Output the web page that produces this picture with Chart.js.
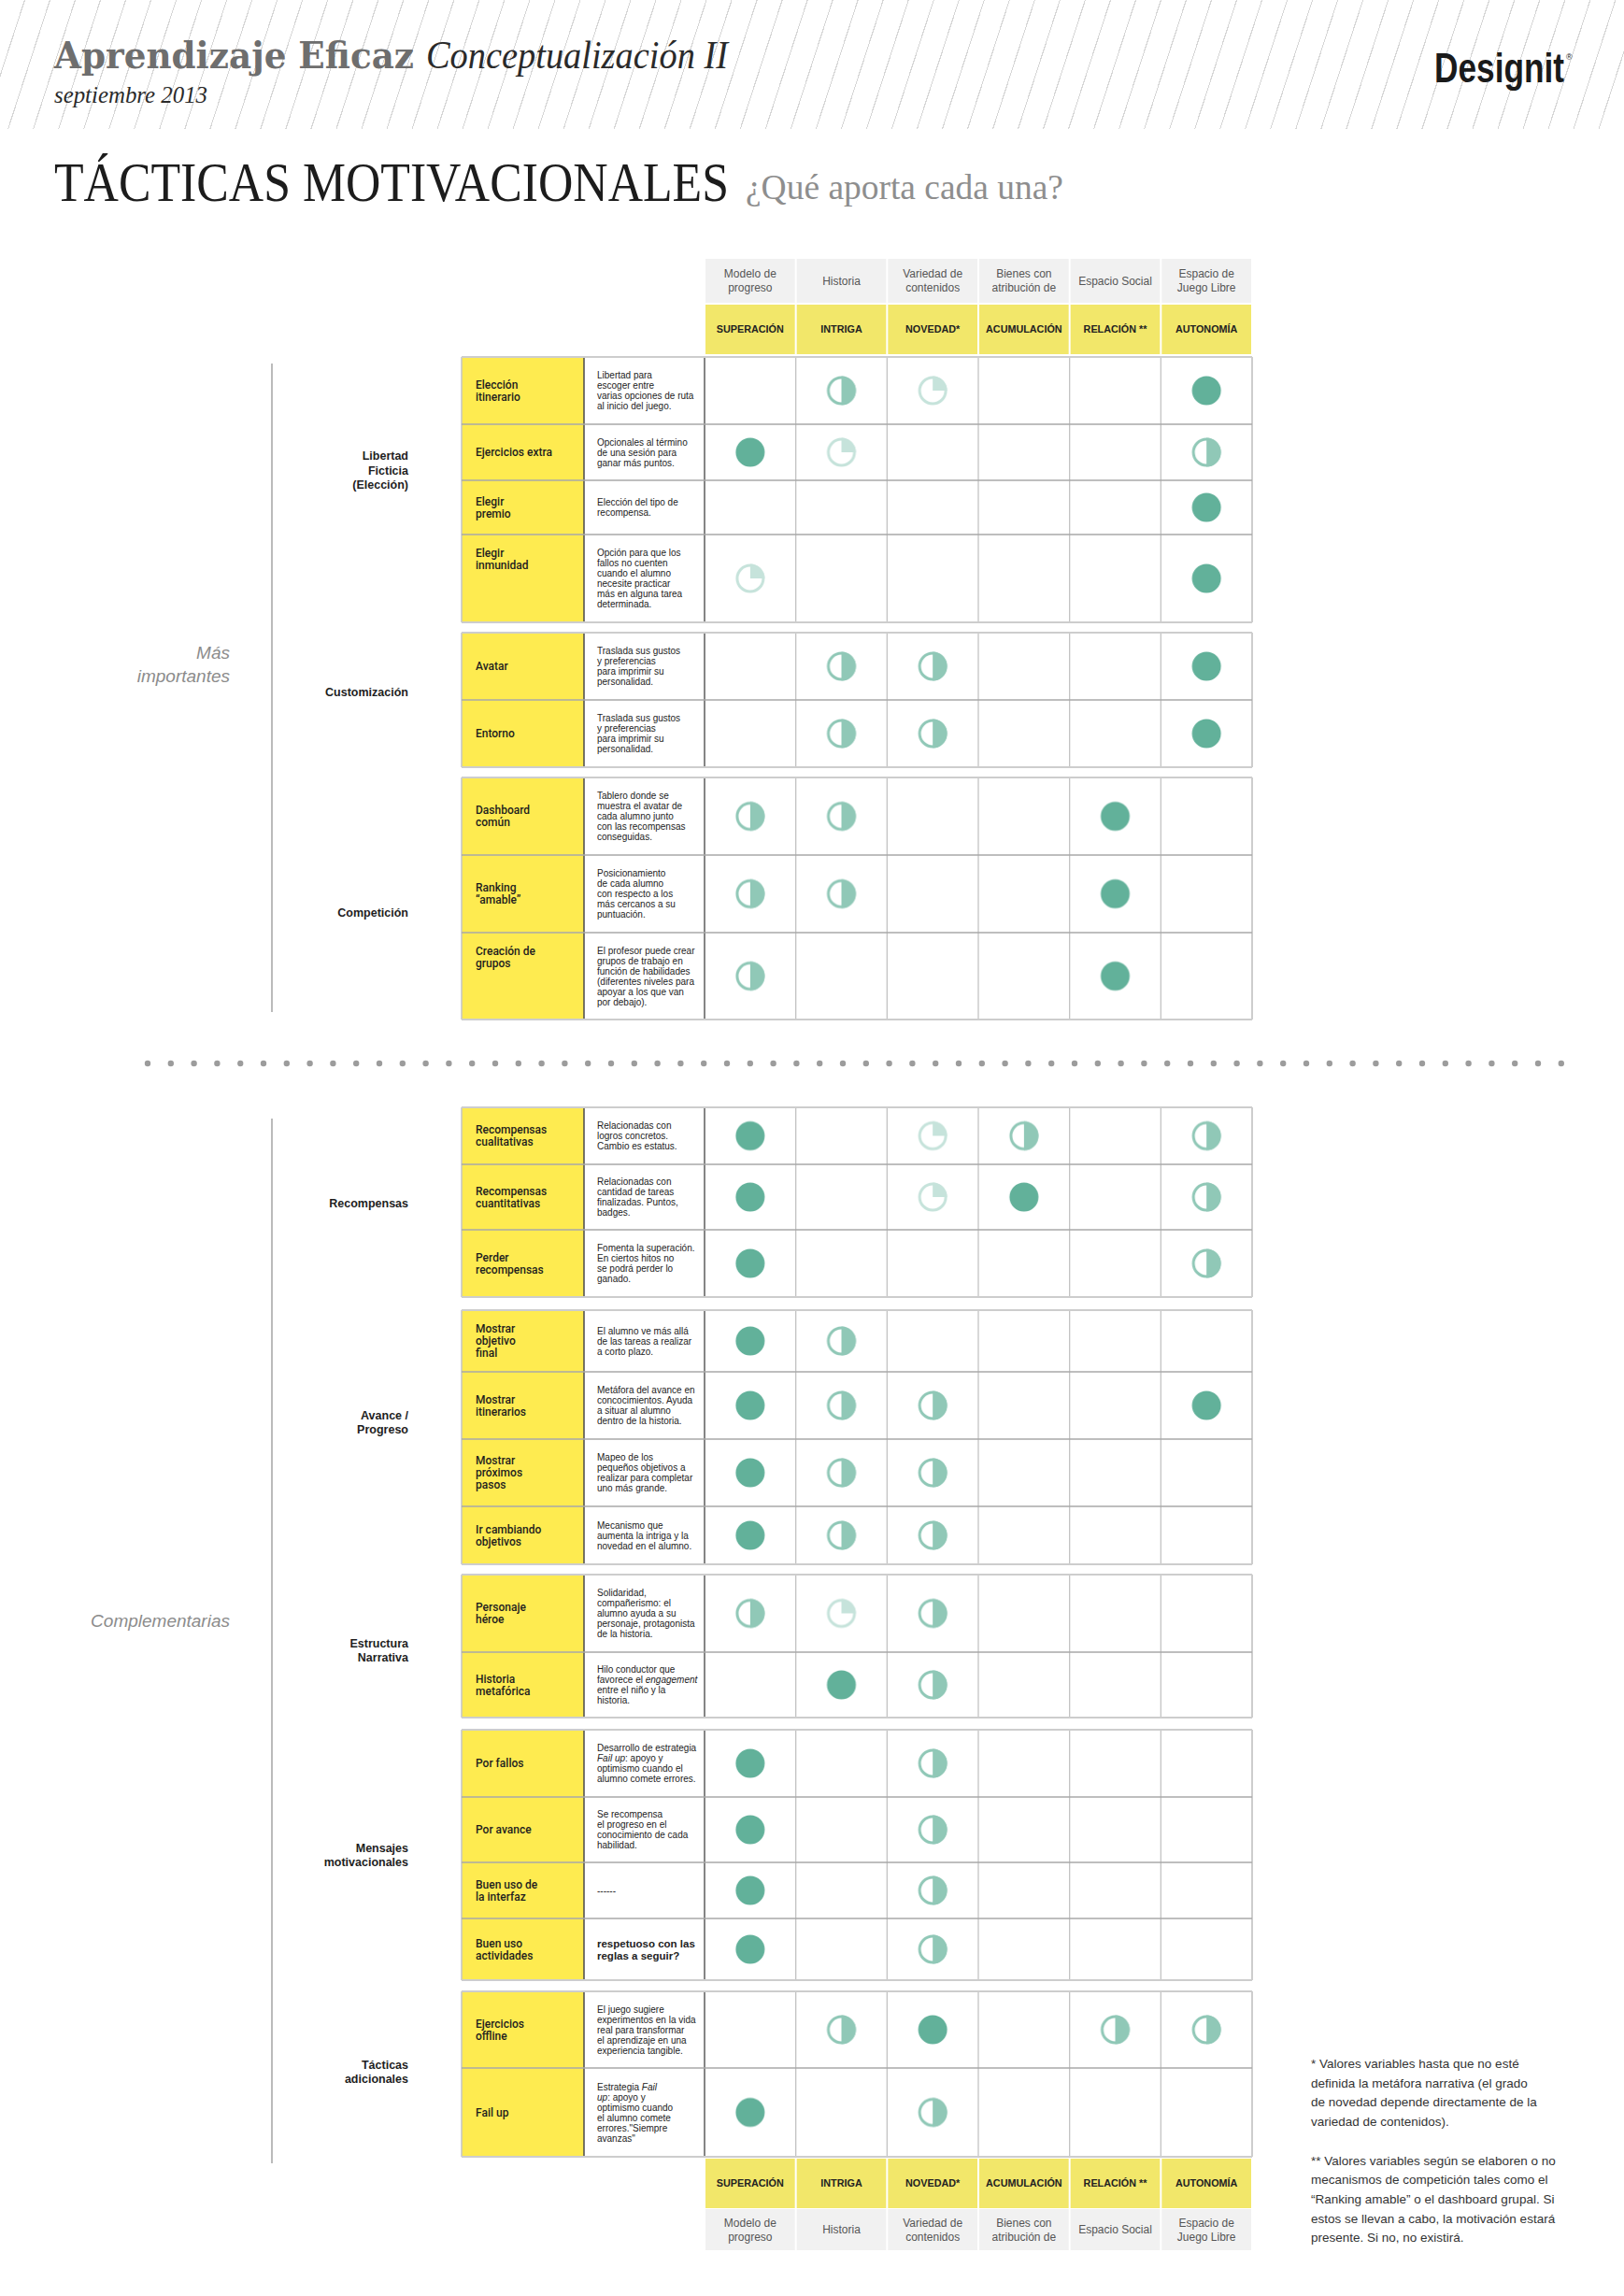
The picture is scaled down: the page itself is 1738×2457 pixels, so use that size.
<!DOCTYPE html>
<html><head><meta charset="utf-8">
<script src="https://cdn.jsdelivr.net/npm/chart.js@4.4.1/dist/chart.umd.min.js"></script>
<style>
html,body{margin:0;padding:0;background:#fff;}
#page{position:relative;width:1738px;height:2457px;overflow:hidden;background:#fff;}
#hatch{position:absolute;left:0;top:0;width:1738px;height:138px;
  background:repeating-linear-gradient(108deg, rgba(255,255,255,0) 0px, rgba(255,255,255,0) 24.6px, #d6d6d6 24.6px, #d6d6d6 25.7px);}
#svg{position:absolute;left:0;top:0;}
canvas.row{position:absolute;}
</style></head>
<body><div id="page"><div id="hatch"></div>
<svg id="svg" width="1738" height="2457" xmlns="http://www.w3.org/2000/svg"></svg></div>
<script>
// ---------------- DATA ----------------
const columns = ['SUPERACIÓN','INTRIGA','NOVEDAD*','ACUMULACIÓN','RELACIÓN **','AUTONOMÍA'];
const columnSources = ['Modelo de\nprogreso','Historia','Variedad de\ncontenidos','Bienes con\natribución de','Espacio Social','Espacio de\nJuego Libre'];
const sections = ['Libertad\nFicticia\n(Elección)','Customización','Competición','Recompensas','Avance /\nProgreso','Estructura\nNarrativa','Mensajes\nmotivacionales','Tácticas\nadicionales'];
const groups = ['Más\nimportantes','Complementarias'];
const tactics = [
  'Elección\nitinerario','Ejercicios extra','Elegir\npremio','Elegir\ninmunidad',
  'Avatar','Entorno',
  'Dashboard\ncomún','Ranking\n“amable”','Creación de\ngrupos',
  'Recompensas\ncualitativas','Recompensas\ncuantitativas','Perder\nrecompensas',
  'Mostrar\nobjetivo\nfinal','Mostrar\nitinerarios','Mostrar\npróximos\npasos','Ir cambiando\nobjetivos',
  'Personaje\nhéroe','Historia\nmetafórica',
  'Por fallos','Por avance','Buen uso de\nla interfaz','Buen uso\nactividades',
  'Ejercicios\noffline','Fail up'
];
const descriptions = [
  'Libertad para\nescoger entre\nvarias opciones de ruta\nal inicio del juego.',
  'Opcionales al término\nde una sesión para\nganar más puntos.',
  'Elección del tipo de\nrecompensa.',
  'Opción para que los\nfallos no cuenten\ncuando el alumno\nnecesite practicar\nmás en alguna tarea\ndeterminada.',
  'Traslada sus gustos\ny preferencias\npara imprimir su\npersonalidad.',
  'Traslada sus gustos\ny preferencias\npara imprimir su\npersonalidad.',
  'Tablero donde se\nmuestra el avatar de\ncada alumno junto\ncon las recompensas\nconseguidas.',
  'Posicionamiento\nde cada alumno\ncon respecto a los\nmás cercanos a su\npuntuación.',
  'El profesor puede crear\ngrupos de trabajo en\nfunción de habilidades\n(diferentes niveles para\napoyar a los que van\npor debajo).',
  'Relacionadas con\nlogros concretos.\nCambio es estatus.',
  'Relacionadas con\ncantidad de tareas\nfinalizadas. Puntos,\nbadges.',
  'Fomenta la superación.\nEn ciertos hitos no\nse podrá perder lo\nganado.',
  'El alumno ve más allá\nde las tareas a realizar\na corto plazo.',
  'Metáfora del avance en\nconcocimientos. Ayuda\na situar al alumno\ndentro de la historia.',
  'Mapeo de los\npequeños objetivos a\nrealizar para completar\nuno más grande.',
  'Mecanismo que\naumenta la intriga y la\nnovedad en el alumno.',
  'Solidaridad,\ncompañerismo: el\nalumno ayuda a su\npersonaje, protagonista\nde la historia.',
  'Hilo conductor que\nfavorece el <i>engagement</i>\nentre el niño y la\nhistoria.',
  'Desarrollo de estrategia\n<i>Fail up</i>: apoyo y\noptimismo cuando el\nalumno comete errores.',
  'Se recompensa\nel progreso en el\nconocimiento de cada\nhabilidad.',
  '------',
  'respetuoso con las\nreglas a seguir?',
  'El juego sugiere\nexperimentos en la vida\nreal para transformar\nel aprendizaje en una\nexperiencia tangible.',
  'Estrategia <i>Fail\nup</i>: apoyo y\noptimismo cuando\nel alumno comete\nerrores."Siempre\navanzas"'
];
const sectionOfTactic = [0,0,0,0, 1,1, 2,2,2, 3,3,3, 4,4,4,4, 5,5, 6,6,6,6, 7,7];
// levels: 0 = none, 1 = quarter, 2 = half, 3 = full
const superacion  = [0,3,0,1, 0,0, 2,2,2, 3,3,3, 3,3,3,3, 2,0, 3,3,3,3, 0,3];
const intriga     = [2,1,0,0, 2,2, 2,2,0, 0,0,0, 2,2,2,2, 1,3, 0,0,0,0, 2,0];
const novedad     = [1,0,0,0, 2,2, 0,0,0, 1,1,0, 0,2,2,2, 2,2, 2,2,2,2, 3,2];
const acumulacion = [0,0,0,0, 0,0, 0,0,0, 2,3,0, 0,0,0,0, 0,0, 0,0,0,0, 0,0];
const relacion    = [0,0,0,0, 0,0, 3,3,3, 0,0,0, 0,0,0,0, 0,0, 0,0,0,0, 2,0];
const autonomia   = [3,2,3,3, 3,3, 0,0,0, 2,2,2, 0,3,0,0, 0,0, 0,0,0,0, 2,0];
const footnotes = [
  '*  Valores variables hasta que no esté','definida la metáfora narrativa (el grado','de novedad depende directamente de la','variedad de contenidos).','',
  '** Valores variables según se elaboren o no','mecanismos de competición tales como el','“Ranking amable” o el dashboard grupal. Si','estos se llevan a cabo, la motivación estará','presente. Si no, no existirá.'
];

// ---------------- LAYOUT ----------------
const LX = {label:494, desc:625, mat:754, right:1340};
const colW = (LX.right - LX.mat) / columns.length;
const sectionTops = [382, 677, 832, 1185, 1402, 1685, 1851, 2131];
const rowHeights = [72,60,58,94, 72,72, 83,83,93, 61,70,72, 66,72,72,62, 83,70, 72,70,60,66, 82,95];
const sectionLabelY = [503, 740, 976, 1287, 1522, 1766, 1985, 2217];
const topAlignedLabels = new Set([3, 8]);

// ---------------- SVG HELPERS ----------------
const NS = 'http://www.w3.org/2000/svg';
const svg = document.getElementById('svg');
function el(name, attrs, parent) {
  const e = document.createElementNS(NS, name);
  for (const k in attrs) e.setAttribute(k, attrs[k]);
  (parent || svg).appendChild(e);
  return e;
}
function line(x1,y1,x2,y2,stroke,w){ el('line',{x1,y1,x2,y2,stroke,'stroke-width':w}); }
function textLines(x, y0, lh, str, attrs) {
  const lines = str.split('\n');
  let italic = false;
  lines.forEach((ln, i) => {
    const t = el('text', Object.assign({x, y: y0 + i*lh}, attrs));
    ln.split(/(<i>|<\/i>)/).forEach(p => {
      if (p === '<i>') { italic = true; return; }
      if (p === '</i>') { italic = false; return; }
      if (!p) return;
      const ts = el('tspan', {}, t);
      if (italic) ts.setAttribute('font-style','italic');
      ts.textContent = p;
    });
  });
}

// ---------------- HEADER ----------------
el('text',{x:58,y:73,'font-family':'DejaVu Serif','font-weight':'bold','font-size':40,fill:'#6e6e6e',textLength:385,lengthAdjust:'spacingAndGlyphs'}).textContent='Aprendizaje Eficaz';
el('text',{x:456,y:73,'font-family':'Liberation Serif','font-style':'italic','font-size':43,fill:'#2a2a2a',textLength:323,lengthAdjust:'spacingAndGlyphs'}).textContent='Conceptualización II';
el('text',{x:58,y:110,'font-family':'Liberation Serif','font-style':'italic','font-size':25,fill:'#2a2a2a',textLength:164,lengthAdjust:'spacingAndGlyphs'}).textContent='septiembre 2013';
el('text',{x:1535,y:88,'font-family':'Liberation Sans','font-weight':'bold','font-size':44,fill:'#1a1a1a',textLength:139,lengthAdjust:'spacingAndGlyphs'}).textContent='Designit';
el('text',{x:1676,y:64,'font-family':'Liberation Sans','font-size':9,fill:'#1a1a1a'}).textContent='®';
el('text',{x:58,y:215,'font-family':'Liberation Serif','font-size':59,fill:'#1c1c1c',textLength:722,lengthAdjust:'spacingAndGlyphs'}).textContent='TÁCTICAS MOTIVACIONALES';
el('text',{x:798,y:213,'font-family':'Liberation Serif','font-size':37,fill:'#8e8e8e',textLength:340,lengthAdjust:'spacingAndGlyphs'}).textContent='¿Qué aporta cada una?';

// ---------------- COLUMN HEADERS ----------------
function headerBand(yGrey, hGrey, yYel, hYel) {
  columns.forEach((c, i) => {
    const x = LX.mat + i*colW + 1, w = colW - 2, cx = LX.mat + (i+0.5)*colW;
    el('rect',{x, y:yGrey, width:w, height:hGrey, fill:'#f1f1f1'});
    el('rect',{x, y:yYel, width:w, height:hYel, fill:'#f2e76a'});
    const src = columnSources[i].split('\n');
    const gc = yGrey + hGrey/2;
    textLines(cx, gc - (src.length-1)*15/2 + 4.3, 15, columnSources[i],
      {'font-family':'Liberation Sans','font-size':12,fill:'#555','text-anchor':'middle'});
    el('text',{x:cx, y:yYel + hYel/2 + 3.8,'font-family':'Liberation Sans','font-weight':'bold','font-size':10.8,fill:'#222','text-anchor':'middle'}).textContent = c;
  });
}
headerBand(277, 47, 326, 53);

// ---------------- TABLE BODY ----------------
let rowTop = [];
{
  let r = 0;
  sectionTops.forEach((T, s) => {
    let y = T;
    while (r < tactics.length && sectionOfTactic[r] === s) { rowTop[r] = y; y += rowHeights[r]; r++; }
  });
}
sections.forEach((name, s) => {
  const rows = tactics.map((_, i) => i).filter(i => sectionOfTactic[i] === s);
  const T = sectionTops[s];
  const B = rowTop[rows[rows.length-1]] + rowHeights[rows[rows.length-1]];
  el('rect',{x:LX.label, y:T, width:LX.desc-LX.label, height:B-T, fill:'#feeb50'});
  line(LX.label, T, LX.label, B, '#c4c4c4', 1.5);
  for (let c = 1; c < columns.length; c++) { const x = LX.mat + c*colW; line(x, T, x, B, '#c3c3c3', 1.3); }
  line(LX.right, T, LX.right, B, '#bdbdbd', 1.5);
  line(LX.desc, T, LX.desc, B, '#4a4a4a', 1.5);
  line(LX.mat, T, LX.mat, B, '#858585', 2);
  rows.forEach((r, k) => {
    if (k > 0) line(LX.label, rowTop[r], LX.right, rowTop[r], '#a9a9a9', 1.6);
  });
  line(LX.label, T, LX.right, T, '#cdcdcd', 2);
  line(LX.label, B, LX.right, B, '#cdcdcd', 2);
  const n = name.split('\n').length;
  textLines(437, sectionLabelY[s] - (n-1)*15.5/2 + 4.5, 15.5, name,
    {'font-family':'Liberation Sans','font-weight':'bold','font-size':12.5,fill:'#1e1e1e','text-anchor':'end'});
});
tactics.forEach((t, r) => {
  const cy = rowTop[r] + rowHeights[r]/2;
  const dl = descriptions[r].split('\n').length;
  const big = r === 21;
  const dlh = big ? 13 : 11;
  const dFirst = cy - (dl-1)*dlh/2 + (big ? 4 : 3.5);
  textLines(639, dFirst, dlh, descriptions[r],
    {'font-family':'Liberation Sans','font-size': big ? 11.5 : 10, fill:'#222', 'font-weight': big ? 'bold' : 'normal'});
  const nl = t.split('\n').length;
  const lFirst = topAlignedLabels.has(r) ? dFirst + 1 : cy - (nl-1)*13/2 + 4.3;
  textLines(509, lFirst, 13, t, {'font-family':'Roboto, Liberation Sans','font-weight':500,'font-size':12,fill:'#1e1e1e'});
});

headerBand(2364, 44, 2310, 53);

line(291, 389, 291, 1083, '#a5a5a5', 1.5);
line(291, 1197, 291, 2315, '#a5a5a5', 1.5);
textLines(246, 705, 25, groups[0], {'font-family':'Liberation Sans','font-style':'italic','font-size':19,fill:'#8c8c8c','text-anchor':'end'});
textLines(246, 1741, 25, groups[1], {'font-family':'Liberation Sans','font-style':'italic','font-size':19,fill:'#8c8c8c','text-anchor':'end'});

for (let i = 0; i < 62; i++) el('circle',{cx:158 + i*24.8, cy:1138, r:3.2, fill:'#9c9c9c'});

footnotes.forEach((f, i) => {
  if (!f) return;
  el('text',{x:1403, y:2213 + i*20.7,'font-family':'Liberation Sans','font-size':13.5,fill:'#333'}).textContent = f;
});

// ---------------- CHART.JS MARKERS ----------------
function makeIcon(level) {
  const c = document.createElement('canvas');
  c.width = 34; c.height = 34;
  const g = c.getContext('2d');
  const cx = 17, cy = 17;
  if (level === 3) {
    g.fillStyle = '#62b19a';
    g.beginPath(); g.arc(cx, cy, 15.5, 0, Math.PI*2); g.fill();
  } else {
    const col = level === 2 ? '#90c8b7' : '#c6e3db';
    g.strokeStyle = col; g.lineWidth = 3;
    g.beginPath(); g.arc(cx, cy, 14, 0, Math.PI*2); g.stroke();
    g.fillStyle = col;
    g.beginPath(); g.moveTo(cx, cy);
    if (level === 2) g.arc(cx, cy, 15.5, -Math.PI/2, Math.PI/2);
    else g.arc(cx, cy, 15.5, -Math.PI/2, 0);
    g.closePath(); g.fill();
  }
  return c;
}
const icons = [null, makeIcon(1), makeIcon(2), makeIcon(3)];
const seriesByColumn = [superacion, intriga, novedad, acumulacion, relacion, autonomia];
const page = document.getElementById('page');
tactics.forEach((t, r) => {
  const pts = [];
  seriesByColumn.forEach((arr, c) => { if (arr[r] > 0) pts.push({x: columns[c], y: t, level: arr[r]}); });
  const cv = document.createElement('canvas');
  cv.className = 'row';
  const w = Math.round(LX.right - LX.mat), h = rowHeights[r];
  cv.width = w; cv.height = h;
  cv.style.left = LX.mat + 'px'; cv.style.top = rowTop[r] + 'px';
  cv.style.width = w + 'px'; cv.style.height = h + 'px';
  page.appendChild(cv);
  new Chart(cv, {
    type: 'scatter',
    data: { datasets: [{ data: pts,
      pointStyle: ctx => icons[(ctx.raw && ctx.raw.level) || 3],
      pointRadius: 16, pointHoverRadius: 16, clip: false }] },
    options: {
      responsive: false, devicePixelRatio: 1, animation: false, events: [],
      layout: { padding: 0, autoPadding: false },
      plugins: { legend: { display: false }, tooltip: { enabled: false } },
      scales: {
        x: { type: 'category', labels: columns, offset: true, display: false },
        y: { type: 'category', labels: [t], offset: true, display: false }
      }
    }
  });
});
</script>
</body></html>
